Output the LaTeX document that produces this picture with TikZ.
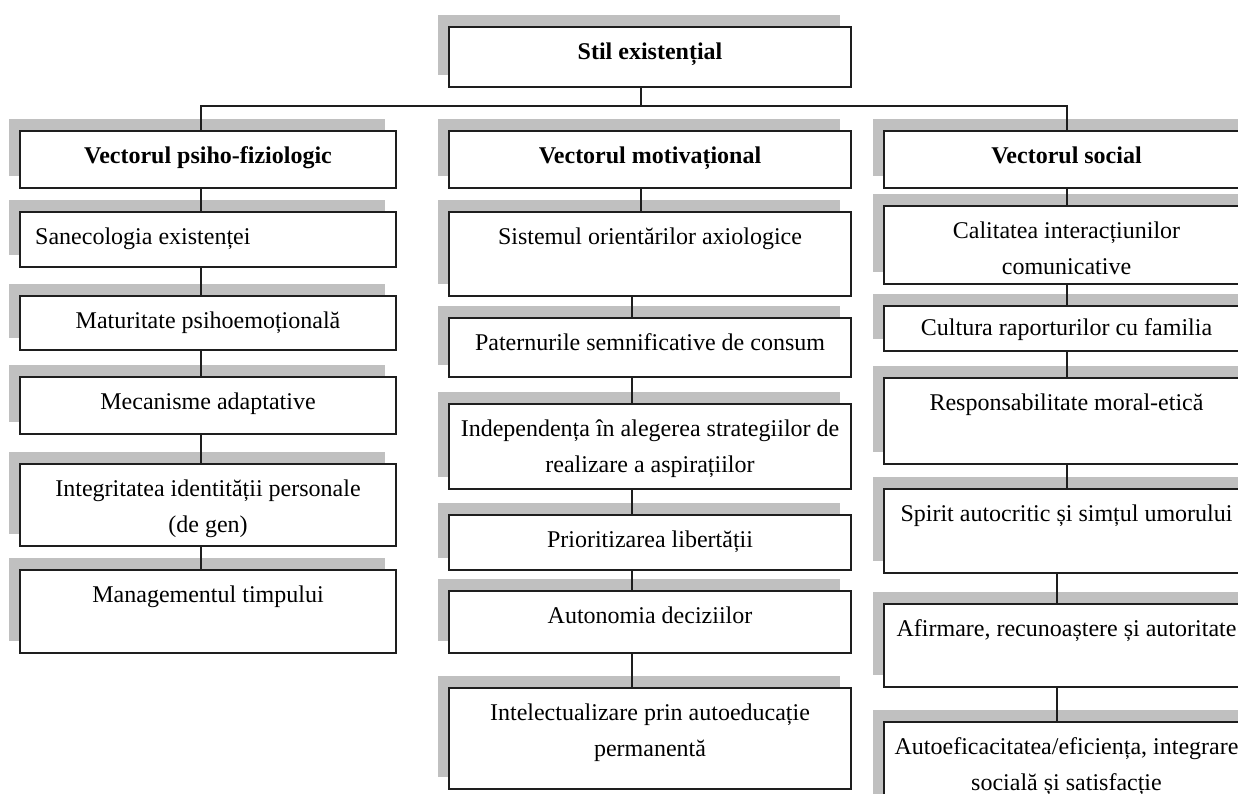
\documentclass[tikz,border=0pt]{standalone}
\usepackage{fontspec}
\setmainfont{Liberation Serif}
\usetikzlibrary{calc}
\definecolor{shadowc}{RGB}{192,192,192}
\definecolor{boxc}{RGB}{30,30,30}
\tikzset{
  boxst/.style={draw=boxc, line width=1.6pt, fill=white, inner sep=0pt, outer sep=0pt},
  txt/.style={inner sep=0pt, align=center, font=\fontsize{24}{36}\selectfont},
  conn/.style={draw=boxc, line width=1.3pt},
}
% #1 name, #2 x1, #3 y1, #4 x2, #5 y2
\newcommand\mkbox[5]{%
  \fill[shadowc] (#2-11,#3-12) rectangle (#4-11,#5-12);
  \node[boxst, anchor=north west, minimum width={(#4-#2)*1pt}, minimum height={(#5-#3)*1pt}] (#1) at (#2,#3) {};
}
% centered text at top of box
\newcommand\mktxt[2]{%
  \node[txt, anchor=north] (#1-t) at ([yshift=-7pt]#1.north) {\strut #2};
}
\begin{document}
\begin{tikzpicture}[x=1pt,y=-1pt]
\useasboundingbox (0,0) rectangle (1238,793);
\clip (0,0) rectangle (1238,793);

% top
\mkbox{stil}{449}{27}{851}{87}
\mktxt{stil}{\textbf{Stil existențial}}

% column 1
\mkbox{a0}{20}{131}{396}{188}
\mktxt{a0}{\textbf{Vectorul psiho-fiziologic}}
\mkbox{a1}{20}{212}{396}{267}
\node[txt, anchor=north west] (a1-t) at ([xshift=15pt,yshift=-7pt]a1.north west) {\strut Sanecologia existenței};
\mkbox{a2}{20}{296}{396}{350}
\mktxt{a2}{Maturitate psihoemoțională}
\mkbox{a3}{20}{377}{396}{434}
\mktxt{a3}{Mecanisme adaptative}
\mkbox{a4}{20}{464}{396}{546}
\mktxt{a4}{Integritatea identității personale\\(de gen)}
\mkbox{a5}{20}{570}{396}{653}
\mktxt{a5}{Managementul timpului}

% column 2
\mkbox{b0}{449}{131}{851}{188}
\mktxt{b0}{\textbf{Vectorul motivațional}}
\mkbox{b1}{449}{212}{851}{296}
\mktxt{b1}{Sistemul orientărilor axiologice}
\mkbox{b2}{449}{318}{851}{377}
\mktxt{b2}{Paternurile semnificative de consum}
\mkbox{b3}{449}{404}{851}{489}
\mktxt{b3}{Independența în alegerea strategiilor de\\realizare a aspirațiilor}
\mkbox{b4}{449}{515}{851}{570}
\mktxt{b4}{Prioritizarea libertății}
\mkbox{b5}{449}{591}{851}{653}
\mktxt{b5}{Autonomia deciziilor}
\mkbox{b6}{449}{688}{851}{789}
\mktxt{b6}{Intelectualizare prin autoeducație\\permanentă}

% column 3
\mkbox{c0}{884}{131}{1249}{188}
\mktxt{c0}{\textbf{Vectorul social}}
\mkbox{c1}{884}{206}{1249}{284}
\mktxt{c1}{Calitatea interacțiunilor\\comunicative}
\mkbox{c2}{884}{306}{1249}{351}
\node[txt, anchor=north] (c2-t) at ([yshift=-4pt]c2.north) {\strut Cultura raporturilor cu familia};
\mkbox{c3}{884}{378}{1249}{464}
\mktxt{c3}{Responsabilitate moral-etică}
\mkbox{c4}{884}{489}{1249}{573}
\mktxt{c4}{Spirit autocritic și simțul umorului}
\mkbox{c5}{884}{604}{1249}{687}
\mktxt{c5}{Afirmare, recunoaștere și autoritate}
\mkbox{c6}{884}{722}{1249}{830}
\mktxt{c6}{Autoeficacitatea/eficiența, integrare\\socială și satisfacție}

% connector guide coordinates
\coordinate (xa) at (201,0);
\coordinate (xs) at (641,0);
\coordinate (xb) at (632,0);
\coordinate (xc) at (1067,0);
\coordinate (xd) at (1057,0);
\coordinate (bus) at (0,106);

% bus
\draw[conn] (stil.south -| xs) -- (bus -| xs);
\draw[conn] (a0.north -| xa) -- (bus -| xa) -- (bus -| xc) -- (c0.north -| xc);

% column 1 connectors
\draw[conn] (a0.south -| xa) -- (a1.north -| xa);
\draw[conn] (a1.south -| xa) -- (a2.north -| xa);
\draw[conn] (a2.south -| xa) -- (a3.north -| xa);
\draw[conn] (a3.south -| xa) -- (a4.north -| xa);
\draw[conn] (a4.south -| xa) -- (a5.north -| xa);

% column 2 connectors
\draw[conn] (b0.south -| xs) -- (b1.north -| xs);
\draw[conn] (b1.south -| xb) -- (b2.north -| xb);
\draw[conn] (b2.south -| xb) -- (b3.north -| xb);
\draw[conn] (b3.south -| xb) -- (b4.north -| xb);
\draw[conn] (b4.south -| xb) -- (b5.north -| xb);
\draw[conn] (b5.south -| xb) -- (b6.north -| xb);

% column 3 connectors
\draw[conn] (c0.south -| xc) -- (c1.north -| xc);
\draw[conn] (c1.south -| xc) -- (c2.north -| xc);
\draw[conn] (c2.south -| xc) -- (c3.north -| xc);
\draw[conn] (c3.south -| xc) -- (c4.north -| xc);
\draw[conn] (c4.south -| xd) -- (c5.north -| xd);
\draw[conn] (c5.south -| xd) -- (c6.north -| xd);
\end{tikzpicture}
\end{document}
